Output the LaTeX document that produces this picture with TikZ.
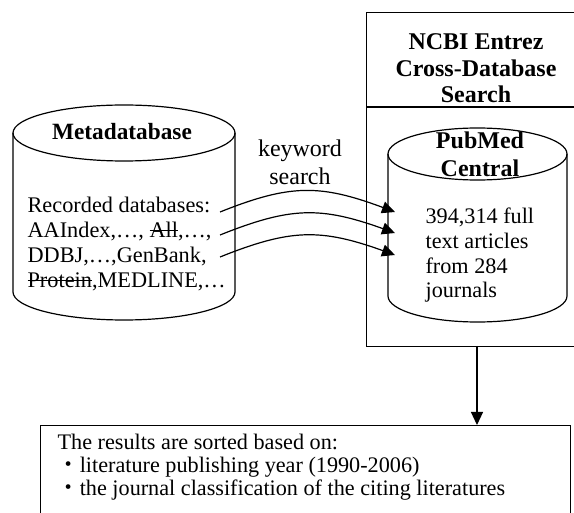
\documentclass[tikz,border=0pt]{standalone}
\usepackage{fontspec}
\setmainfont{Liberation Serif}
\newfontfamily\cjk{Noto Sans CJK JP}
\newsavebox\strikebox
\newcommand\mystrike[1]{\sbox\strikebox{#1}\rlap{\raisebox{0.3em}{\rule{\wd\strikebox}{1.1pt}}}\usebox\strikebox}
\usetikzlibrary{arrows.meta}
\begin{document}
\begin{tikzpicture}[x=1pt,y=-1pt,line width=1.2pt,
  txt/.style={inner sep=0pt,font=\fontsize{22.2}{25}\selectfont},
  ltxt/.style={inner sep=0pt,font=\fontsize{22.3}{25}\selectfont},
  kwtxt/.style={inner sep=0pt,font=\fontsize{24}{27}\selectfont},
  btxt/.style={inner sep=0pt,font=\fontsize{24}{27}\selectfont\bfseries},
  mtxt/.style={inner sep=0pt,font=\fontsize{23.3}{27}\selectfont\bfseries},
  arr/.style={-{Triangle[length=13pt,width=12pt]},line width=1.2pt},
  boxnode/.style={draw,line width=1.2pt,inner sep=0pt,anchor=north west}]
\useasboundingbox (0,0) rectangle (574,513);
\fill[white] (0,0) rectangle (574,513);

% Metadatabase cylinder
\draw (13,133) -- (13,292) .. controls (13,307.5) and (62.7,320) .. (124,320)
  .. controls (185.3,320) and (235,307.5) .. (235,292) -- (235,133);
\draw (124,133) ellipse [x radius=111, y radius=28];
\node[mtxt,anchor=base] (meta) at (122,140) {Metadatabase};
\node[ltxt,anchor=base west] (m1) at (27,213) {Recorded databases:};
\node[ltxt,anchor=base west] (m2) at (27,238) {AAIndex,…, \mystrike{All},…,};
\node[ltxt,anchor=base west] (m3) at (27,263) {DDBJ,…,GenBank,};
\node[ltxt,anchor=base west] (m4) at (27,288) {\mystrike{Protein},MEDLINE,…};

% keyword search
\node[kwtxt,anchor=base] (kw1) at (300,157) {keyword};
\node[kwtxt,anchor=base] (kw2) at (300,185) {search};

% NCBI box
\node[boxnode,minimum width=214pt,minimum height=334pt] (ncbi) at (366,12) {};
\draw (366,107) -- (580,107);
\node[btxt,anchor=base] (n1) at (476,50) {NCBI Entrez};
\node[btxt,anchor=base] (n2) at (476,77) {Cross-Database};
\node[btxt,anchor=base] (n3) at (476,103) {Search};

% PubMed cylinder
\draw (388,154) -- (388,296) .. controls (388,310.4) and (428.1,322) .. (477.5,322)
  .. controls (526.9,322) and (567,310.4) .. (567,296) -- (567,154);
\draw (477.5,154) ellipse [x radius=89.5, y radius=26];
\node[btxt,anchor=base] (p1) at (480,149) {PubMed};
\node[btxt,anchor=base] (p2) at (480,177) {Central};
\node[txt,anchor=base west] (q1) at (425,224) {394,314 full};
\node[txt,anchor=base west] (q2) at (425,249) {text articles};
\node[txt,anchor=base west] (q3) at (425,274) {from 284};
\node[txt,anchor=base west] (q4) at (425,298) {journals};

% keyword arrows
\coordinate (s1) at (220,212); \coordinate (e1) at (395,212);
\coordinate (s2) at (220,235); \coordinate (e2) at (395,233);
\coordinate (s3) at (220,257); \coordinate (e3) at (395,255);
\draw[arr] (s1) .. controls (290,184) and (320,184) .. (e1);
\draw[arr] (s2) .. controls (290,207) and (320,206) .. (e2);
\draw[arr] (s3) .. controls (290,229) and (320,228) .. (e3);

% results box
\node[boxnode,minimum width=530pt,minimum height=100pt] (res) at (40,425) {};
\coordinate (down) at (477,346);
\draw[arr] (down) -- (down |- res.north);
\node[txt,anchor=base west] (r1) at (57,450) {The results are sorted based on:};
\node[txt,anchor=base west] (r2) at (57,473) {{\cjk ・}literature publishing year (1990-2006)};
\node[txt,anchor=base west] (r3) at (57,496) {{\cjk ・}the journal classification of the citing literatures};
\end{tikzpicture}
\end{document}
